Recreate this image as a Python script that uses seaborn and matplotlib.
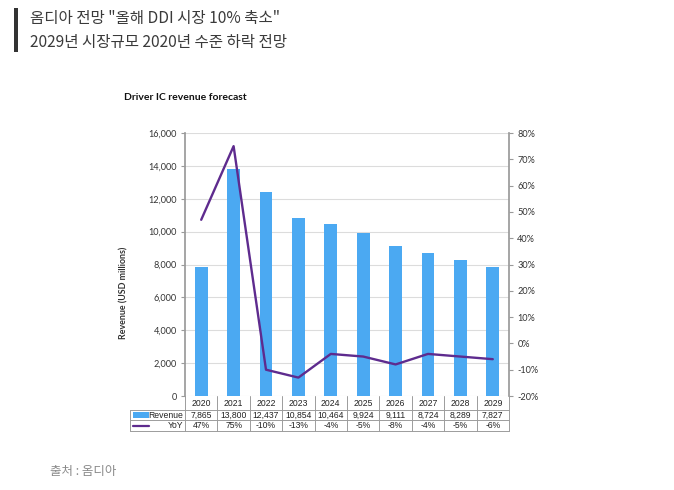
import numpy as np
import pandas as pd
import matplotlib
matplotlib.use("Agg")
import matplotlib.pyplot as plt
import matplotlib.transforms as mtransforms
from matplotlib.patches import Rectangle
from matplotlib.lines import Line2D
import seaborn as sns

# ---------------- data ----------------
years = ["2020", "2021", "2022", "2023", "2024", "2025", "2026", "2027", "2028", "2029"]
revenue = [7865, 13800, 12437, 10854, 10464, 9924, 9111, 8724, 8289, 7827]
yoy = [47, 75, -10, -13, -4, -5, -8, -4, -5, -6]
revenue_labels = ["7,865", "13,800", "12,437", "10,854", "10,464", "9,924", "9,111", "8,724", "8,289", "7,827"]
yoy_labels = ["47%", "75%", "-10%", "-13%", "-4%", "-5%", "-8%", "-4%", "-5%", "-6%"]
left_ticks = [0, 2000, 4000, 6000, 8000, 10000, 12000, 14000, 16000]
right_ticks = [-20, -10, 0, 10, 20, 30, 40, 50, 60, 70, 80]

header_lines = ['옴디아 전망 "올해 DDI 시장 10% 축소"', "2029년 시장규모 2020년 수준 하락 전망"]
source_text = "출처 : 옴디아"
chart_title = "Driver IC revenue forecast"
ylabel = "Revenue (USD millions)"

df = pd.DataFrame({"year": years, "revenue": revenue, "yoy": yoy})

# ---------------- style ----------------
sns.set_theme(style="white")
plt.rcParams["font.family"] = ["Lato", "DejaVu Sans"]

BAR = "#4BA9F2"
LINE = "#5E2B8E"
GRID = "#dcdcdc"
SPINE = "#9a9a9a"
TXT = "#333333"

W, H = 674, 490
fig = plt.figure(figsize=(W / 100, H / 100), dpi=100)
fig.patch.set_facecolor("white")

L, R, T, B = 185, 509, 133, 396
ax = fig.add_axes([L / W, 1 - B / H, (R - L) / W, (B - T) / H])

sns.barplot(data=df, x="year", y="revenue", color=BAR, width=0.4, ax=ax,
            saturation=1, edgecolor="none")
ax.set_xlim(-0.5, len(years) - 0.5)
ax.set_ylim(0, 16000)
ax.set_yticks(left_ticks)
ax.set_yticklabels([f"{v:,}" for v in left_ticks], fontsize=6.6, color=TXT)
ax.set_xticks([])
ax.set_xlabel("")
ax.set_ylabel(ylabel, fontsize=6.4, fontweight="bold", color=TXT)
ax.yaxis.set_label_coords((128 - L) / (R - L), (B - 293) / (B - T))
ax.grid(axis="y", color=GRID, linewidth=0.8)
ax.set_axisbelow(True)
for s in ["top", "bottom"]:
    ax.spines[s].set_visible(False)
ax.spines["left"].set_color(SPINE)
ax.spines["right"].set_visible(False)
ax.tick_params(axis="y", left=True, length=3, color=SPINE, width=0.8, pad=3)

ax2 = ax.twinx()
sns.lineplot(x=np.arange(len(years)), y=df["yoy"], color=LINE, linewidth=1.7, ax=ax2)
ax2.set_ylim(-20, 80)
ax2.set_yticks(right_ticks)
ax2.set_yticklabels([f"{v}%" for v in right_ticks], fontsize=6.6, color=TXT)
ax2.set_ylabel("")
ax2.set_xlim(-0.5, len(years) - 0.5)
for s in ["top", "bottom", "left"]:
    ax2.spines[s].set_visible(False)
ax2.spines["right"].set_color(SPINE)
ax2.tick_params(axis="y", right=True, length=3, color=SPINE, width=0.8, pad=3)
ax2.grid(False)

# ---------------- data table ----------------
trans = mtransforms.blended_transform_factory(ax.transData, ax.transAxes)
ph = B - T
def ay(py):
    return (B - py) / ph

y_top, y_r1, y_r2, y_bot = ay(396), ay(410), ay(420), ay(431)
x_left = -0.5 - (L - 130) / ((R - L) / len(years))
x_right = len(years) - 0.5
lc = "#9c9c9c"
lw = 0.7
for i in range(len(years) + 1):
    ax.add_line(Line2D([i - 0.5, i - 0.5], [y_top, y_bot], transform=trans,
                       color=lc, lw=lw, clip_on=False))
ax.add_line(Line2D([x_left, x_left], [y_r1, y_bot], transform=trans, color=lc, lw=lw, clip_on=False))
for yy in (y_r1, y_r2, y_bot):
    ax.add_line(Line2D([x_left, x_right], [yy, yy], transform=trans, color=lc, lw=lw, clip_on=False))

tfont = dict(fontsize=6.2, color="#222222", family=["Liberation Sans", "DejaVu Sans"],
             ha="center", va="center", transform=trans, clip_on=False)
yc_year, yc_rev, yc_yoy = ay(403.5), ay(415), ay(425.5)
for i, yr in enumerate(years):
    ax.text(i, yc_year, yr, **tfont)
    ax.text(i, yc_rev, revenue_labels[i], **tfont)
    ax.text(i, yc_yoy, yoy_labels[i], **tfont)

lab_font = dict(tfont)
lab_font["ha"] = "right"
ax.text(-0.55, yc_rev, "Revenue", **lab_font)
ax.text(-0.55, yc_yoy, "YoY", **lab_font)
key_x0 = x_left + 0.08
key_w = 0.5
ax.add_patch(Rectangle((key_x0, yc_rev - 0.012), key_w, 0.024, transform=trans,
                       color=BAR, clip_on=False, lw=0))
ax.add_line(Line2D([key_x0, key_x0 + key_w], [yc_yoy, yc_yoy], transform=trans,
                   color=LINE, lw=1.6, clip_on=False))

# ---------------- texts ----------------
fig.text(124 / W, 1 - 97 / H, chart_title, fontsize=7.5, fontweight="bold",
         color="#111111", ha="left", va="center")

fig.add_artist(Rectangle((14 / W, 1 - 52 / H), 4 / W, 44 / H, transform=fig.transFigure,
                         color="#333333", lw=0))
kfont = ["Noto Sans CJK KR", "DejaVu Sans"]
fig.text(30 / W, 1 - 19 / H, header_lines[0], fontsize=11.2, color="#3a3a3a",
         family=kfont, ha="left", va="center")
fig.text(30 / W, 1 - 43 / H, header_lines[1], fontsize=11.2, color="#3a3a3a",
         family=kfont, ha="left", va="center")
fig.text(50 / W, 1 - 471 / H, source_text, fontsize=9, color="#8a8a8a",
         family=kfont, ha="left", va="center")

fig.savefig("out.png", dpi=100, facecolor="white")
